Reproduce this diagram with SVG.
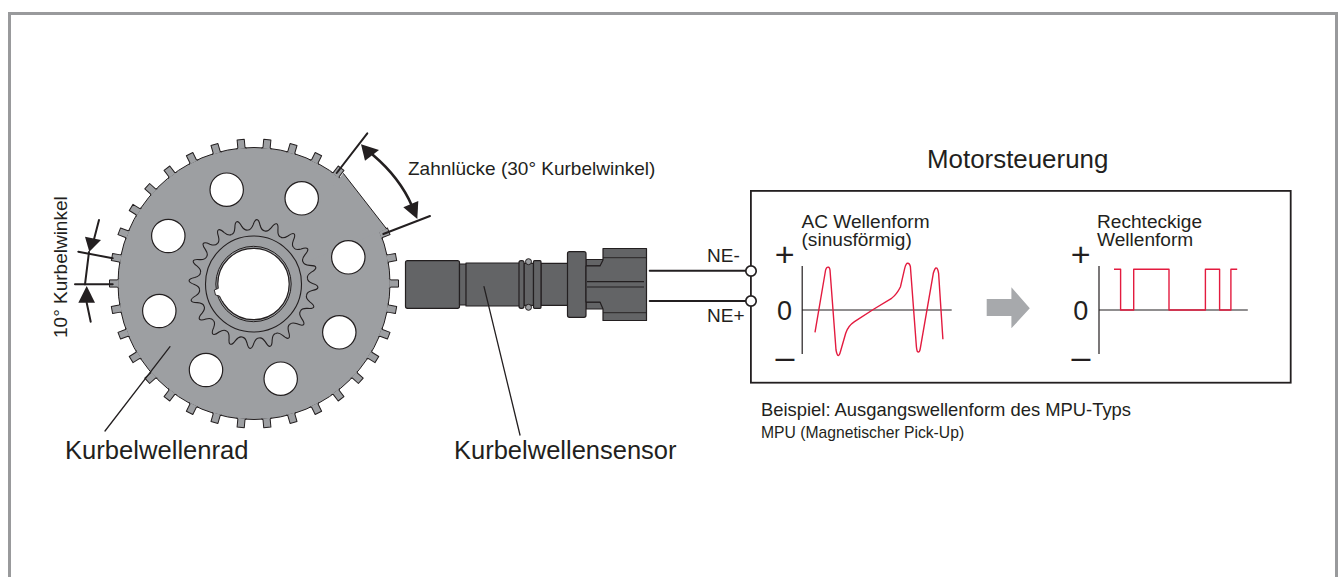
<svg xmlns="http://www.w3.org/2000/svg" width="1338" height="577" viewBox="0 0 1338 577">
<style>
text{font-family:"Liberation Sans",Arial,sans-serif;fill:#231f20}
.ln{fill:none;stroke:#231f20;stroke-width:1.3;stroke-linecap:round;stroke-linejoin:round}
.th{fill:none;stroke:#231f20;stroke-width:2;stroke-linecap:round}
.ar{fill:#231f20;stroke:none}
.hole{fill:#fff;stroke:#231f20;stroke-width:1.2}
.tooth{fill:#9d9fa2;stroke:#231f20;stroke-width:1;stroke-linejoin:round}
.sp{fill:none;stroke:#231f20;stroke-width:1.1;stroke-linejoin:round}
.b{fill:#636466;stroke:#231f20;stroke-width:1.2;stroke-linejoin:round}
.red{fill:none;stroke:#e31b3f;stroke-width:1.4;stroke-linejoin:round}
.ax{fill:none;stroke:#231f20;stroke-width:1.2}
</style>
<defs>
<path id="t" class="tooth" d="M-5 -135.3 L-3.6 -136.5 L-3.6 -144.5 L3.6 -144.5 L3.6 -136.5 L5 -135.3"/>
<path id="s" class="sp" d="M-8.5 -53.6C-5.5 -53.6 -4.5 -56 -3.5 -59C-2.7 -62 -2 -64.5 0 -64.5C2 -64.5 2.7 -62 3.5 -59C4.5 -56 5.5 -53.6 8.5 -53.6"/>
</defs>
<rect width="1338" height="577" fill="#fff"/>
<path d="M9.5 577V13.5H1336.5V577" fill="none" stroke="#999a9c" stroke-width="3"/>

<g id="kurbelwellenrad">
<circle cx="254" cy="283.5" r="136" fill="#9d9fa2" stroke="#231f20" stroke-width="1"/>
<g transform="translate(254 283.5)">
<use href="#t" transform="rotate(270)"/><use href="#t" transform="rotate(280.59)"/><use href="#t" transform="rotate(291.18)"/><use href="#t" transform="rotate(301.76)"/><use href="#t" transform="rotate(312.35)"/><use href="#t" transform="rotate(322.94)"/><use href="#t" transform="rotate(333.53)"/><use href="#t" transform="rotate(344.12)"/><use href="#t" transform="rotate(354.71)"/><use href="#t" transform="rotate(5.29)"/><use href="#t" transform="rotate(15.88)"/><use href="#t" transform="rotate(26.47)"/><use href="#t" transform="rotate(37.06)"/><use href="#t" transform="rotate(68.82)"/><use href="#t" transform="rotate(79.41)"/><use href="#t" transform="rotate(90)"/><use href="#t" transform="rotate(100.59)"/><use href="#t" transform="rotate(111.18)"/><use href="#t" transform="rotate(121.76)"/><use href="#t" transform="rotate(132.35)"/><use href="#t" transform="rotate(142.94)"/><use href="#t" transform="rotate(153.53)"/><use href="#t" transform="rotate(164.12)"/><use href="#t" transform="rotate(174.71)"/><use href="#t" transform="rotate(185.29)"/><use href="#t" transform="rotate(195.88)"/><use href="#t" transform="rotate(206.47)"/><use href="#t" transform="rotate(217.06)"/><use href="#t" transform="rotate(227.65)"/><use href="#t" transform="rotate(238.24)"/><use href="#t" transform="rotate(248.82)"/><use href="#t" transform="rotate(259.41)"/>
</g>
<path d="M254 283.5L343.3 173.3L386.7 229Z" fill="#9d9fa2"/>
<path d="M343.3 173.3L386.7 229" fill="none" stroke="#231f20" stroke-width="1"/>
<circle class="hole" cx="226.7" cy="189.7" r="16.7"/><circle class="hole" cx="301.7" cy="198.3" r="16.7"/><circle class="hole" cx="348.3" cy="257.3" r="16.7"/><circle class="hole" cx="339.3" cy="332.3" r="16.7"/><circle class="hole" cx="280.7" cy="378.7" r="16.7"/><circle class="hole" cx="206" cy="370" r="16.7"/><circle class="hole" cx="159.3" cy="311" r="16.7"/><circle class="hole" cx="168.3" cy="236" r="16.7"/>
<g transform="translate(253.5 284)">
<use href="#s" transform="rotate(3)"/><use href="#s" transform="rotate(21)"/><use href="#s" transform="rotate(39)"/><use href="#s" transform="rotate(57)"/><use href="#s" transform="rotate(75)"/><use href="#s" transform="rotate(93)"/><use href="#s" transform="rotate(111)"/><use href="#s" transform="rotate(129)"/><use href="#s" transform="rotate(147)"/><use href="#s" transform="rotate(165)"/><use href="#s" transform="rotate(183)"/><use href="#s" transform="rotate(201)"/><use href="#s" transform="rotate(219)"/><use href="#s" transform="rotate(237)"/><use href="#s" transform="rotate(255)"/><use href="#s" transform="rotate(273)"/><use href="#s" transform="rotate(291)"/><use href="#s" transform="rotate(309)"/><use href="#s" transform="rotate(327)"/><use href="#s" transform="rotate(345)"/>
<circle r="48" fill="none" stroke="#231f20" stroke-width="1.1"/>
<circle r="37.7" fill="none" stroke="#231f20" stroke-width="1"/>
<circle r="35.7" fill="#fff" stroke="#231f20" stroke-width="1.2"/>
<path d="M-36 4.5L-39.2 6L-38 11L-34 12L-31.5 17L-28 16L-30 5Z" fill="#fff"/>
<path d="M-35.5 4.5L-39.2 6L-38 11L-34 12L-31.5 17" fill="none" stroke="#231f20" stroke-width="0.9"/>
</g>
</g>

<g id="kurbelwellensensor">
<rect class="b" x="405.5" y="260.7" width="54" height="47.6" rx="2"/>
<rect class="b" x="459.5" y="264" width="7" height="41"/>
<rect class="b" x="466" y="263" width="54" height="43"/>
<rect class="b" x="541" y="263.3" width="27" height="42"/>
<rect class="b" x="524" y="263.3" width="9.5" height="42"/>
<circle cx="528.5" cy="261.7" r="3" fill="#9d9fa2" stroke="#231f20" stroke-width="1"/>
<circle cx="528.5" cy="307.3" r="3" fill="#9d9fa2" stroke="#231f20" stroke-width="1"/>
<rect class="b" x="519" y="260.7" width="5" height="47.6" rx="2"/>
<rect class="b" x="533.5" y="260.7" width="7.5" height="47.6" rx="1"/>
<rect class="b" x="586" y="259.5" width="18" height="6.5"/>
<rect class="b" x="586" y="302" width="18" height="7"/>
<rect class="b" x="586" y="266" width="18" height="36"/>
<rect class="b" x="567.5" y="251.7" width="18.5" height="65.6" rx="2"/>
<path class="b" d="M603 248.5H646.5V320.5H603V309L600 302H586V266H600L603 260Z"/>
<path d="M603 257.7H646.5M603 312.7H646.5" stroke="#231f20" stroke-width="0.9"/>
<path d="M587 281.7H644M587 287H644" stroke="#231f20" stroke-width="1.2"/>
</g>

<g id="motorsteuerung">
<rect x="750.9" y="190.9" width="539.8" height="191.8" fill="#fff" stroke="#231f20" stroke-width="1.8"/>
<text x="927" y="167.7" font-size="25.9">Motorsteuerung</text>
<path class="ax" d="M802.2 266V354M802.2 310H951.7"/>
<path class="ax" d="M1099 266V354M1099 310H1247.8"/>
<path class="red" d="M815 332.3L825.6 270Q827 266.5 828.3 267.3Q829.5 267 830 270L836 350Q837.5 357.5 839 355Q840 354 840.4 351.7L845.7 333.3Q848 326 854.5 321.7L874 309L891.6 298.3Q897 294 900.5 286.7L904.7 268.3Q906 263 907.7 263.2Q909.6 263 910.4 266.7L916.4 346.7Q917 352.5 918.3 352Q919.7 352 920.3 348.3L933.3 273.3Q935 267.5 936.3 268Q937.7 268 938.6 273.3L942.9 339.3"/>
<path class="red" d="M1114 269.3H1120.6V310H1133.7V269.3H1169V310H1205.4V269.3H1219.6V310H1230.9V269.3H1237.2"/>
<path d="M986.7 299H1011.4V287.3L1029.8 308.3L1011.4 328.3V316H986.7Z" fill="#a7a9ac"/>
<text x="801.5" y="227.7" font-size="19.1">AC Wellenform</text>
<text x="801.5" y="245.5" font-size="19.1">(sinusförmig)</text>
<text x="1097" y="227.7" font-size="19.1">Rechteckige</text>
<text x="1097" y="245.5" font-size="19.1">Wellenform</text>
<text x="784.6" y="265.5" font-size="34" text-anchor="middle">+</text>
<text x="784.6" y="319.5" font-size="27" text-anchor="middle">0</text>
<text x="785" y="368" font-size="34" text-anchor="middle">–</text>
<text x="1080.7" y="265.5" font-size="34" text-anchor="middle">+</text>
<text x="1080.7" y="319.5" font-size="27" text-anchor="middle">0</text>
<text x="1081" y="368" font-size="34" text-anchor="middle">–</text>
</g>

<g id="connectors">
<path class="th" d="M336.7 173L367.3 133.3"/>
<path class="th" d="M383.3 234L430 216"/>
<path class="th" d="M373 155Q400 178 412 206" style="stroke-width:2.6"/>
<polygon class="ar" points="361,144.3 365,160.7 379,150"/>
<polygon class="ar" points="417.3,219 403.3,207.3 418.3,201"/>
<path class="th" d="M78.3 251.7L112.7 258.3"/>
<path class="th" d="M75 284.3H112.7"/>
<path class="th" d="M99 220L94 239.3"/>
<path class="th" d="M89 252L85 284.3"/>
<path class="th" d="M86.7 302.7L90.7 321.7"/>
<polygon class="ar" points="89.3,251.7 85,236.7 101,240"/>
<polygon class="ar" points="86.7,286 78.3,302.7 95,302.7"/>
<path class="ln" d="M170 346.7L105 431"/>
<path class="ln" d="M484 286.7L520 435"/>
<path class="th" d="M649.7 270.7H746M649.7 301H746"/>
<circle cx="751" cy="271" r="5.2" fill="#fff" stroke="#231f20" stroke-width="1.7"/>
<circle cx="751" cy="301" r="5.2" fill="#fff" stroke="#231f20" stroke-width="1.7"/>
</g>

<g id="labels">
<text x="408" y="174.7" font-size="19">Zahnlücke (30° Kurbelwinkel)</text>
<text transform="translate(67 338) rotate(-90)" font-size="19">10° Kurbelwinkel</text>
<text x="65" y="458.7" font-size="25.6">Kurbelwellenrad</text>
<text x="454" y="458.7" font-size="25.5">Kurbelwellensensor</text>
<text x="707" y="262" font-size="19">NE-</text>
<text x="707" y="322" font-size="19">NE+</text>
<text x="761" y="415.7" font-size="18.4">Beispiel: Ausgangswellenform des MPU-Typs</text>
<text x="761" y="437.7" font-size="15.7">MPU (Magnetischer Pick-Up)</text>
</g>
</svg>
